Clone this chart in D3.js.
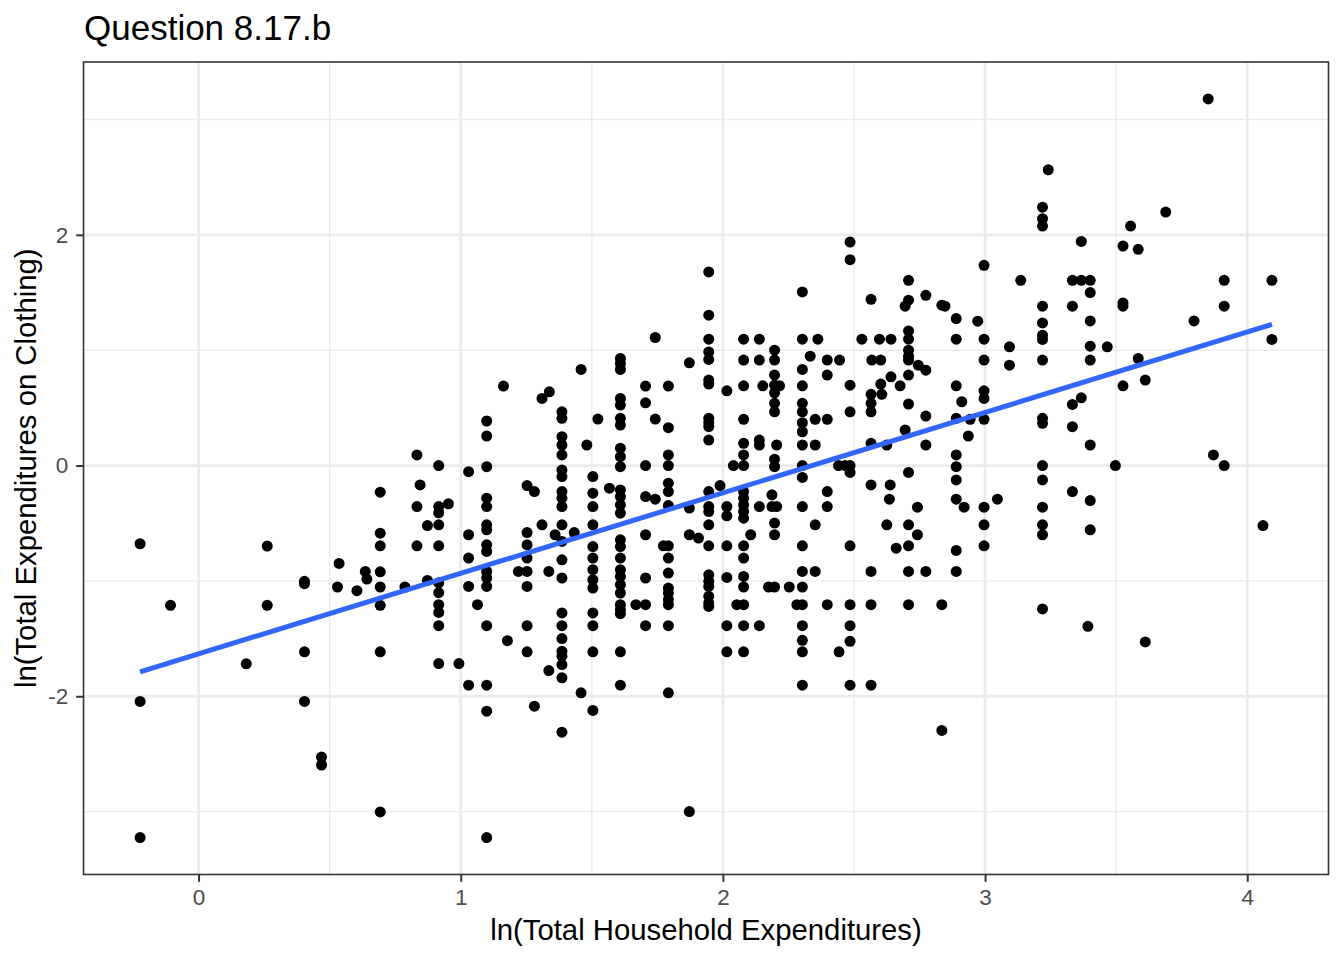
<!DOCTYPE html>
<html><head><meta charset="utf-8">
<script src="https://cdn.jsdelivr.net/npm/d3@7"></script>
<style>
body{margin:0;background:#fff}
text{font-family:"Liberation Sans",Arial,Helvetica,sans-serif}
</style>
</head><body>
<svg id="chart" width="1344" height="960"></svg>
<script>
const title = "Question 8.17.b";
const xLabel = "ln(Total Household Expenditures)";
const yLabel = "ln(Total Expenditures on Clothing)";
const xTicks = [0, 1, 2, 3, 4];
const xMinor = [0.5, 1.5, 2.5, 3.5];
const yTicks = [-2, 0, 2];
const yMinor = [-3, -1, 1, 3];

// observations: [ln(total household expenditures), ln(total expenditures on clothing)]
const obs = [
[-0.223,-0.678],[-0.223,-2.045],[-0.223,-3.225],[-0.107,-1.212],[0.182,-1.719],[0.262,-0.698],[0.262,-1.212],[0.404,-1.004],[0.404,-1.024],[0.404,-1.615],[0.404,-2.045],[0.469,-2.527],[0.469,-2.596],[0.536,-0.849],[0.53,-1.053],[0.604,-1.085],[0.636,-0.918],[0.642,-0.984],
[0.693,-0.231],[0.693,-0.586],[0.693,-0.696],[0.693,-0.921],[0.693,-1.053],[0.693,-1.212],[0.693,-1.615],[0.693,-3.003],[0.787,-1.053],
[0.833,0.092],[0.845,-0.168],[0.833,-0.356],[0.833,-0.696],[0.873,-0.52],[0.873,-0.996],
[0.916,0],[0.916,-0.356],[0.916,-0.41],[0.916,-0.514],[0.916,-0.696],[0.916,-1.016],[0.916,-1.102],[0.916,-1.206],[0.916,-1.273],[0.916,-1.388],[0.916,-1.717],
[0.953,-0.332],[0.993,-1.717],
[1.03,-0.053],[1.03,-0.6],[1.03,-0.802],[1.03,-1.048],[1.03,-1.904],[1.064,-1.206],
[1.099,0.386],[1.099,0.256],[1.099,-0.01],[1.099,-0.283],[1.099,-0.356],[1.099,-0.514],[1.099,-0.557],[1.099,-0.687],[1.099,-0.745],[1.099,-0.918],[1.099,-0.975],[1.099,-1.048],[1.099,-1.388],[1.099,-1.904],[1.099,-2.129],[1.099,-3.225],
[1.163,0.689],[1.178,-1.518],
[1.22,-0.918],[1.253,-0.174],[1.253,-0.581],[1.253,-0.687],[1.253,-0.802],[1.253,-0.918],[1.253,-1.048],[1.253,-1.388],[1.253,-1.615],
[1.281,-0.226],[1.281,-2.086],[1.31,-0.514],[1.31,0.582],[1.336,-0.918],[1.338,0.639],[1.336,-1.777],
[1.386,0.466],[1.386,0.409],[1.386,0.25],[1.386,0.178],[1.386,0.092],[1.386,-0.038],[1.386,-0.096],[1.386,-0.226],[1.386,-0.283],[1.386,-0.356],[1.386,-0.514],[1.386,-0.658],[1.386,-0.817],[1.386,-0.975],[1.386,-1.278],[1.386,-1.388],[1.386,-1.5],[1.386,-1.61],[1.386,-1.653],[1.386,-1.725],[1.386,-1.84],[1.386,-2.311],
[1.36,-0.6],[1.433,-0.581],[1.459,0.833],[1.459,-1.97],[1.481,0.178],[1.523,0.403],
[1.504,-0.096],[1.504,-0.24],[1.504,-0.356],[1.504,-0.514],[1.504,-0.702],[1.504,-0.802],[1.504,-0.903],[1.504,-0.99],[1.504,-1.062],[1.504,-1.278],[1.504,-1.388],[1.504,-1.615],[1.504,-2.123],
[1.567,-0.196],
[1.609,0.928],[1.609,0.885],[1.609,0.833],[1.609,0.582],[1.609,0.524],[1.609,0.409],[1.609,0.351],[1.609,0.15],[1.609,0.077],[1.609,-0.01],[1.609,-0.211],[1.609,-0.269],[1.609,-0.341],[1.609,-0.413],[1.609,-0.644],[1.609,-0.702],[1.609,-0.802],[1.609,-0.903],[1.609,-0.961],[1.609,-1.033],[1.609,-1.105],[1.609,-1.206],[1.609,-1.249],[1.609,-1.284],[1.609,-1.615],[1.609,-1.904],
[1.668,-1.206],
[1.705,0.689],[1.705,0.544],[1.705,0],[1.705,-0.269],[1.705,-0.6],[1.705,-0.975],[1.705,-1.206],[1.705,-1.388],
[1.742,0.403],[1.742,-0.292],[1.742,1.11],
[1.792,0.689],[1.792,0.328],[1.792,0.092],[1.792,0],[1.792,-0.153],[1.792,-0.226],[1.792,-0.347],[1.792,-0.696],[1.792,-0.802],[1.792,-0.932],[1.792,-1.062],[1.792,-1.105],[1.792,-1.163],[1.792,-1.206],[1.792,-1.388],[1.792,-1.97],
[1.773,-0.696],
[1.872,0.89],[1.872,-0.369],[1.872,-0.6],[1.872,-3.0],[1.907,-0.629],
[1.946,1.678],[1.946,1.303],[1.946,1.095],[1.946,0.985],[1.946,0.92],[1.946,0.741],[1.946,0.706],[1.946,0.409],[1.946,0.371],[1.946,0.337],[1.946,0.221],[1.946,-0.226],[1.946,-0.356],[1.946,-0.399],[1.946,-0.514],[1.946,-0.696],[1.946,-0.947],[1.946,-1.004],[1.946,-1.048],[1.946,-1.134],[1.946,-1.191],[1.946,-1.221],
[1.989,-0.174],
[2.015,0.648],[2.015,-0.356],[2.015,-0.436],[2.015,-0.696],[2.015,-0.97],[2.015,-1.388],[2.015,-1.615],
[2.04,0],[2.053,-1.206],
[2.079,1.095],[2.079,0.914],[2.079,0.691],[2.079,0.401],[2.079,0.193],[2.079,0.092],[2.079,0],[2.079,-0.226],[2.079,-0.283],[2.079,-0.341],[2.079,-0.399],[2.079,-0.456],[2.079,-0.696],[2.079,-0.802],[2.079,-0.961],[2.079,-1.053],[2.079,-1.206],[2.079,-1.388],[2.079,-1.615],
[2.106,-0.6],
[2.139,1.095],[2.139,0.914],[2.139,0.221],[2.139,0.178],[2.139,-0.356],[2.139,-1.388],
[2.152,0.691],[2.174,-1.053],[2.187,-0.254],[2.187,-0.356],[2.205,-0.356],
[2.197,1.0],[2.197,0.914],[2.197,0.784],[2.197,0.697],[2.197,0.631],[2.197,0.539],[2.197,0.466],[2.197,0.055],[2.197,-0.01],[2.197,-0.499],[2.197,-0.6],[2.197,-1.053],
[2.216,0.691],[2.205,0.178],[2.253,-1.053],
[2.303,1.505],[2.303,1.095],[2.303,0.833],[2.303,0.691],[2.303,0.539],[2.303,0.466],[2.303,0.371],[2.303,0.293],[2.303,0.178],[2.303,0],[2.303,-0.103],[2.303,-0.356],[2.303,-0.696],[2.303,-0.918],[2.303,-1.053],[2.303,-1.206],[2.303,-1.388],[2.303,-1.515],[2.303,-1.615],[2.303,-1.904],
[2.282,-1.206],
[2.362,1.095],[2.333,0.948],[2.352,0.401],[2.352,0.178],[2.352,-0.514],[2.352,-0.918],
[2.398,0.914],[2.445,0.914],[2.398,0.784],[2.398,0.401],[2.398,-0.226],[2.398,-0.356],[2.398,-1.206],
[2.441,0],[2.466,0],[2.443,-1.615],
[2.485,1.937],[2.485,1.785],[2.485,0.697],[2.485,0.466],[2.485,0],[2.485,-0.06],[2.485,-0.696],[2.485,-1.206],[2.485,-1.388],[2.485,-1.524],[2.485,-1.904],
[2.53,1.095],[2.565,1.441],[2.568,0.914],[2.602,0.914],[2.597,1.095],[2.641,1.095],
[2.565,0.617],[2.565,0.539],[2.565,0.466],[2.565,0.193],[2.565,-0.168],[2.565,-0.918],[2.565,-1.206],[2.565,-1.904],
[2.602,0.706],[2.606,0.617],[2.641,0.769],[2.676,0.691],[2.625,0.178],[2.638,-0.168],[2.635,-0.292],[2.625,-0.514],[2.661,-0.716],
[2.708,1.606],[2.708,1.433],[2.708,1.167],[2.708,1.095],[2.708,1.0],[2.708,0.948],[2.708,0.914],[2.708,0.784],[2.708,0.533],[2.708,-0.06],[2.708,-0.514],[2.708,-0.696],[2.708,-0.918],[2.708,-1.206],
[2.695,1.381],[2.774,1.476],[2.835,1.39],[2.847,1.381],[2.745,0.87],[2.774,0.827],[2.695,0.308],[2.774,0.429],[2.774,0.178],[2.742,-0.361],[2.742,-0.6],[2.774,-0.918],[2.835,-1.206],[2.835,-2.296],
[2.89,1.274],[2.89,1.095],[2.89,0.691],[2.89,0.409],[2.89,0.092],[2.89,-0.01],[2.89,-0.125],[2.89,-0.292],[2.89,-0.736],[2.89,-0.918],
[2.911,0.553],[2.943,0.401],[2.936,0.256],[2.92,-0.361],[2.972,1.251],
[2.996,1.736],[2.996,1.095],[2.996,0.914],[2.996,0.648],[2.996,0.582],[2.996,0.401],[2.996,-0.361],[2.996,-0.514],[2.996,-0.696],
[3.047,-0.292],[3.093,1.029],[3.093,0.87],[3.136,1.606],
[3.219,2.24],[3.219,2.14],[3.219,2.076],[3.219,1.381],[3.219,1.236],[3.219,1.13],[3.219,1.093],[3.219,0.914],[3.219,0.409],[3.219,0.366],[3.219,0],[3.219,-0.125],[3.219,-0.361],[3.219,-0.514],[3.219,-0.6],[3.219,-1.243],
[3.241,2.564],
[3.333,1.606],[3.333,1.381],[3.333,0.53],[3.333,0.337],[3.333,-0.226],
[3.367,1.943],[3.367,1.606],[3.367,0.587],[3.392,-1.394],
[3.401,1.606],[3.401,1.499],[3.401,1.254],[3.401,1.035],[3.401,0.914],[3.401,0.178],[3.401,-0.304],[3.401,-0.557],
[3.466,1.029],[3.497,0],[3.526,1.903],[3.526,1.409],[3.526,1.381],[3.526,0.691],[3.555,2.076],[3.584,1.874],[3.584,0.928],[3.611,0.741],[3.611,-1.529],[3.689,2.197],[3.797,1.254],[3.851,3.178],[3.871,0.092],[3.912,1.606],[3.912,1.381],[3.912,0],[4.06,-0.52],[4.094,1.606],[4.094,1.093]
];

const svg = d3.select("#chart");
const P = {l: 83.5, r: 1328.5, t: 62, b: 874.5};

function expand(ext) { const s = ext[1] - ext[0]; return [ext[0] - 0.05 * s, ext[1] + 0.05 * s]; }
const x = d3.scaleLinear().domain(expand(d3.extent(obs, d => d[0]))).range([P.l, P.r]);
const y = d3.scaleLinear().domain(expand(d3.extent(obs, d => d[1]))).range([P.b, P.t]);

svg.append("rect").attr("x", P.l).attr("y", P.t).attr("width", P.r - P.l).attr("height", P.b - P.t).attr("fill", "#fff");

const grid = svg.append("g");
grid.selectAll(".xmin").data(xMinor).join("line")
  .attr("x1", d => x(d)).attr("x2", d => x(d)).attr("y1", P.t).attr("y2", P.b)
  .attr("stroke", "#EBEBEB").attr("stroke-width", 1.4);
grid.selectAll(".ymin").data(yMinor).join("line")
  .attr("y1", d => y(d)).attr("y2", d => y(d)).attr("x1", P.l).attr("x2", P.r)
  .attr("stroke", "#EBEBEB").attr("stroke-width", 1.4);
grid.selectAll(".xmaj").data(xTicks).join("line")
  .attr("x1", d => x(d)).attr("x2", d => x(d)).attr("y1", P.t).attr("y2", P.b)
  .attr("stroke", "#EBEBEB").attr("stroke-width", 2.8);
grid.selectAll(".ymaj").data(yTicks).join("line")
  .attr("y1", d => y(d)).attr("y2", d => y(d)).attr("x1", P.l).attr("x2", P.r)
  .attr("stroke", "#EBEBEB").attr("stroke-width", 2.8);

svg.append("g").selectAll("circle").data(obs).join("circle")
  .attr("cx", d => x(d[0])).attr("cy", d => y(d[1])).attr("r", 5.5).attr("fill", "#000");

// OLS fit (geom_smooth method = "lm")
const mx = d3.mean(obs, d => d[0]), my = d3.mean(obs, d => d[1]);
const sxy = d3.sum(obs, d => (d[0] - mx) * (d[1] - my));
const sxx = d3.sum(obs, d => (d[0] - mx) ** 2);
const slope = sxy / sxx, intercept = my - slope * mx;
const xr = d3.extent(obs, d => d[0]);
svg.append("line")
  .attr("x1", x(xr[0])).attr("y1", y(intercept + slope * xr[0]))
  .attr("x2", x(xr[1])).attr("y2", y(intercept + slope * xr[1]))
  .attr("stroke", "#3366FF").attr("stroke-width", 5);

svg.append("rect").attr("x", P.l).attr("y", P.t).attr("width", P.r - P.l).attr("height", P.b - P.t)
  .attr("fill", "none").attr("stroke", "#333333").attr("stroke-width", 1.6);

const xAxis = svg.append("g").attr("transform", `translate(0,${P.b})`)
  .call(d3.axisBottom(x).tickValues(xTicks).tickFormat(d3.format("d")).tickSize(7.3).tickPadding(7));
const yAxis = svg.append("g").attr("transform", `translate(${P.l},0)`)
  .call(d3.axisLeft(y).tickValues(yTicks).tickFormat(d => d < 0 ? "-" + Math.abs(d) : String(d)).tickSize(7.3).tickPadding(8));
[xAxis, yAxis].forEach(a => {
  a.select(".domain").remove();
  a.selectAll(".tick line").attr("stroke", "#333333").attr("stroke-width", 2);
  a.selectAll(".tick text").attr("fill", "#4D4D4D").style("font-size", "22.5px")
   .style("font-family", '"Liberation Sans",Arial,Helvetica,sans-serif');
});

svg.append("text").attr("x", 84).attr("y", 40).text(title)
  .style("font-size", "35px").attr("fill", "#000");
svg.append("text").attr("x", (P.l + P.r) / 2).attr("y", 940).attr("text-anchor", "middle")
  .text(xLabel).style("font-size", "29.3px").attr("fill", "#000");
svg.append("text").attr("transform", `translate(36,${(P.t + P.b) / 2}) rotate(-90)`).attr("text-anchor", "middle")
  .text(yLabel).style("font-size", "29.3px").attr("fill", "#000");
</script>
</body></html>
